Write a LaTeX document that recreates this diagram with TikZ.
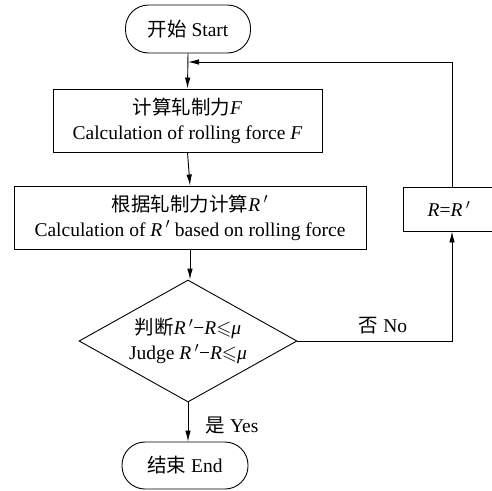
\documentclass[tikz,border=0pt]{standalone}
\usepackage{amssymb}
\usepackage{fontspec}
\setmainfont{Liberation Serif}
\newfontfamily\cjk{Noto Sans CJK SC}
\usetikzlibrary{shapes.geometric,arrows.meta}
\newcommand{\Rp}{\textit{R}\,$'$}
\newcommand{\lesl}{$\leqslant$}
\begin{document}
\begin{tikzpicture}[x=1pt,y=-1pt,
  font=\fontsize{19.5}{25}\selectfont,
  every node/.style={inner sep=0pt, align=center},
  term/.style={draw, rounded corners=23pt, line width=0.9pt},
  proc/.style={draw, line width=0.9pt},
  decide/.style={draw, diamond, aspect=1.79, line width=0.9pt},
  conn/.style={line width=0.9pt, -{Latex[length=11pt,width=5.5pt]}}]
\useasboundingbox (0,0) rectangle (492,490);
\node[term, minimum width=125pt, minimum height=48pt] (start) at (188,29) {{\cjk 开始} Start};
\node[proc, minimum width=269pt, minimum height=63pt] (b1) at (187.5,120.5)
  {{\cjk 计算轧制力}\textit{F}\\Calculation of rolling force \textit{F}};
\node[proc, minimum width=352pt, minimum height=63pt] (b2) at (190,217.5)
  {{\cjk 根据轧制力计算}\Rp\\Calculation of \Rp{} based on rolling force};
\node[decide, minimum width=218pt, minimum height=122pt] (dec) at (188,341)
  {{\cjk 判断}\Rp{}−\textit{R}\lesl\textit{μ}\\Judge \Rp{}−\textit{R}\lesl\textit{μ}};
\node[term, minimum width=126pt, minimum height=47pt] (end) at (185,465.5) {{\cjk 结束} End};
\node[proc, minimum width=98pt, minimum height=44pt] (rb) at (452,209) {};
\node at (449,209) {\textit{R}=\Rp};
\node (no) at (383,326) {{\cjk 否} No};
\node (yes) at (232,425) {{\cjk 是} Yes};
\coordinate (j) at (188,62);
\draw[conn] (start.south) -- (b1.north);
\draw[conn] (b1.south) -- (b2.north);
\draw[conn] (b2.south) -- (b2.south |- dec.north);
\draw[conn] (dec.south) -- (dec.south |- end.north);
\draw[conn] (dec.east) -| (rb.south);
\draw[conn] (rb.north) |- (j);
\end{tikzpicture}
\end{document}
